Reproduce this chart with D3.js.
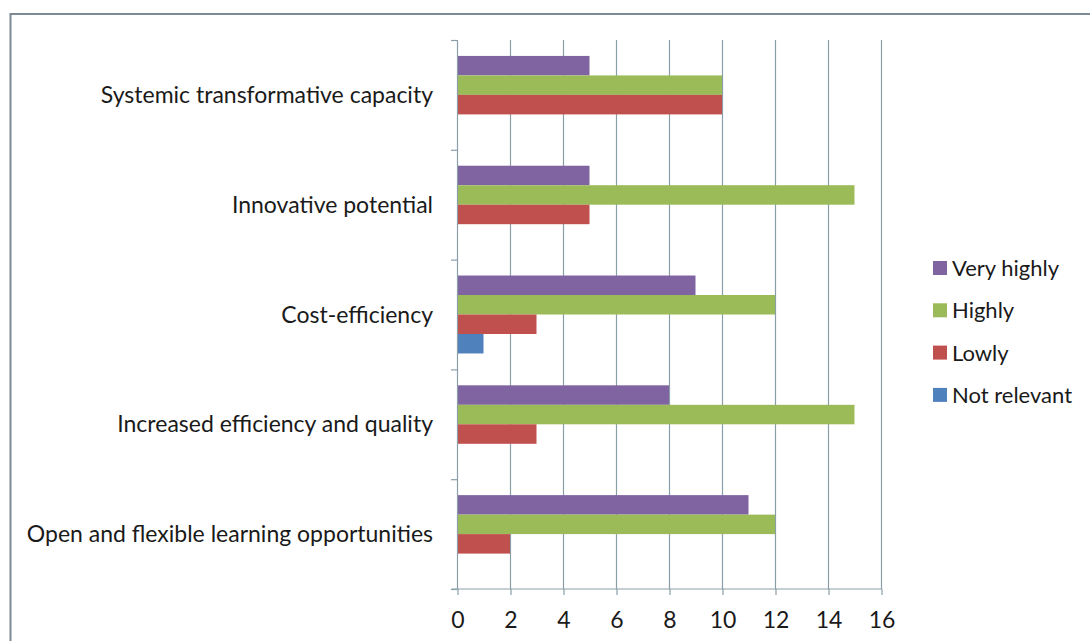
<!DOCTYPE html>
<html>
<head>
<meta charset="utf-8">
<script src="https://cdn.jsdelivr.net/npm/d3@7"></script>
<style>
  body { margin: 0; background: #fff; }
  svg text { font-family: Lato, "Open Sans", sans-serif; fill: #1a1a1a; }
</style>
</head>
<body>
<div id="chart"></div>
<script>
// categories listed top to bottom
const categories = [
  "Systemic transformative capacity",
  "Innovative potential",
  "Cost-efficiency",
  "Increased efficiency and quality",
  "Open and flexible learning opportunities"
]
const seriesNames = ["Very highly", "Highly", "Lowly", "Not relevant"]
const seriesColors = ["#8064a2", "#9bbb59", "#c0504d", "#4f81bd"]
const veryHighly = [5, 5, 9, 8, 11]
const highly = [10, 15, 12, 15, 12]
const lowly = [10, 5, 3, 3, 2]
const notRelevant = [0, 0, 1, 0, 0]
const xTicks = [0, 2, 4, 6, 8, 10, 12, 14, 16]

const seriesValues = [veryHighly, highly, lowly, notRelevant]

const width = 1090
const height = 641
const margin = { top: 40, right: 209, bottom: 52, left: 457 }
const boundedWidth = width - margin.left - margin.right
const boundedHeight = height - margin.top - margin.bottom

const svg = d3.select("#chart").append("svg")
    .attr("width", width)
    .attr("height", height)

// outer frame
svg.append("rect")
    .attr("x", 10.5)
    .attr("y", 14)
    .attr("width", width + 10)
    .attr("height", height + 10)
    .attr("fill", "none")
    .attr("stroke", "#7d8a93")
    .attr("stroke-width", 2)

const bounds = svg.append("g")
    .attr("transform", `translate(${margin.left}, ${margin.top})`)

const xScale = d3.scaleLinear()
  .domain([0, 16])
  .range([0, boundedWidth])

const yScale = d3.scaleBand()
  .domain(categories)
  .range([0, boundedHeight])
  .paddingInner(0.29)
  .paddingOuter(0.145)

const ySub = d3.scaleBand()
  .domain(seriesNames)
  .range([0, yScale.bandwidth()])

// gridlines
bounds.append("g")
  .selectAll("line")
  .data(xTicks.slice(1))
  .join("line")
    .attr("x1", d => xScale(d) + 0.5)
    .attr("x2", d => xScale(d) + 0.5)
    .attr("y1", 0)
    .attr("y2", boundedHeight)
    .attr("stroke", "#8a9ea8")
    .attr("stroke-width", 1.2)

// bars
const groups = bounds.append("g")
  .selectAll("g")
  .data(categories)
  .join("g")
    .attr("transform", d => `translate(0, ${yScale(d)})`)

groups.selectAll("rect")
  .data((c, i) => seriesNames.map((s, j) => ({ series: s, value: seriesValues[j][i], color: seriesColors[j] })))
  .join("rect")
    .attr("x", xScale(0))
    .attr("y", d => ySub(d.series))
    .attr("width", d => xScale(d.value) - xScale(0))
    .attr("height", ySub.bandwidth())
    .attr("fill", d => d.color)

// y axis with ticks between categories
const yAxis = bounds.append("g")
yAxis.append("line")
    .attr("x1", 0.5).attr("x2", 0.5)
    .attr("y1", 0).attr("y2", boundedHeight)
    .attr("stroke", "#8a9ea8")
    .attr("stroke-width", 1.2)
yAxis.selectAll(".tick")
  .data(d3.range(categories.length + 1))
  .join("line")
    .attr("x1", -6).attr("x2", 0)
    .attr("y1", i => i * yScale.step() + 0.5)
    .attr("y2", i => i * yScale.step() + 0.5)
    .attr("stroke", "#8a9ea8")
    .attr("stroke-width", 1.2)
yAxis.selectAll("text")
  .data(categories)
  .join("text")
    .attr("x", -24)
    .attr("y", d => yScale(d) + yScale.bandwidth() / 2 + 8)
    .attr("text-anchor", "end")
    .style("font-size", "23px")
    .text(d => d)

// x axis
const xAxisGenerator = d3.axisBottom(xScale)
  .tickValues(xTicks)
  .tickSize(6)
  .tickPadding(17)

const xAxis = bounds.append("g")
    .attr("transform", `translate(0.5, ${boundedHeight})`)
    .call(xAxisGenerator)
xAxis.select(".domain").attr("stroke", "#8a9ea8").attr("stroke-width", 1.2)
  .attr("d", `M-6,0H${boundedWidth}`)
xAxis.selectAll(".tick line").attr("stroke", "#8a9ea8").attr("stroke-width", 1.2)
xAxis.selectAll(".tick text")
    .style("font-size", "23px")
    .style("font-family", "Lato, sans-serif")
    .attr("fill", "#1a1a1a")

// legend
const legend = svg.append("g")
    .attr("transform", "translate(933, 261)")
const legendRows = legend.selectAll("g")
  .data(seriesNames)
  .join("g")
    .attr("transform", (d, i) => `translate(0, ${i * 42.3})`)
legendRows.append("rect")
    .attr("width", 14)
    .attr("height", 14)
    .attr("fill", (d, i) => seriesColors[i])
legendRows.append("text")
    .attr("x", 19)
    .attr("y", 15)
    .style("font-size", "22px")
    .text(d => d)
</script>
</body>
</html>
